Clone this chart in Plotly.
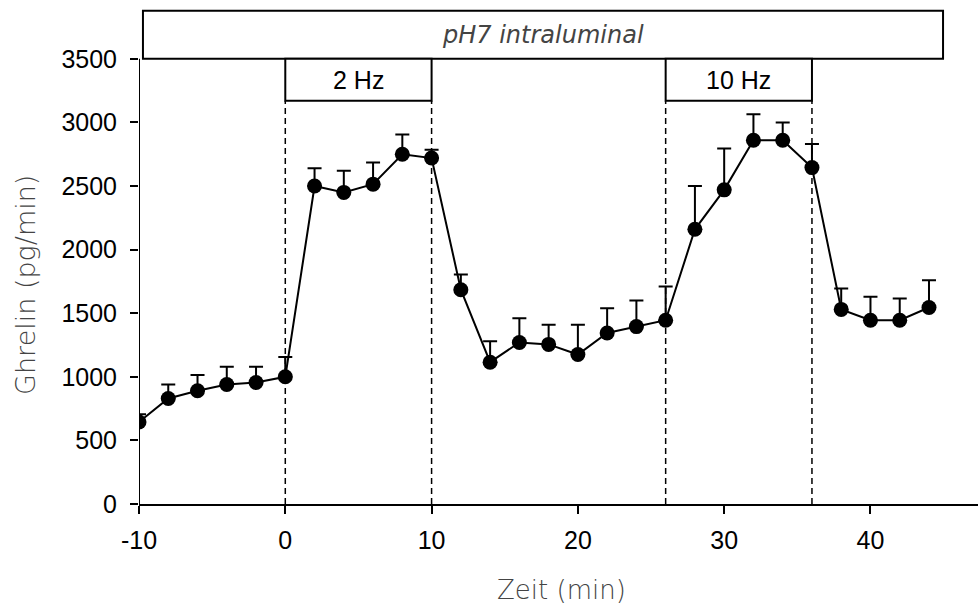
import plotly.graph_objects as go

# ---- data ----
time_min = [-10, -8, -6, -4, -2, 0, 2, 4, 6, 8, 10, 12, 14, 16, 18, 20, 22, 24, 26, 28, 30, 32, 34, 36, 38, 40, 42, 44]
ghrelin = [645, 830, 890, 940, 955, 1000, 2500, 2450, 2515, 2750, 2720, 1685, 1115, 1270, 1255, 1175, 1345, 1395,
           1445, 2160, 2470, 2860, 2860, 2645, 1530, 1445, 1445, 1545]
sem = [60, 110, 125, 140, 125, 155, 140, 170, 170, 155, 65, 120, 165, 190, 155, 235, 195, 205,
       265, 340, 325, 205, 140, 185, 165, 185, 170, 215]

x_ticks = [-10, 0, 10, 20, 30, 40]
y_ticks = [0, 500, 1000, 1500, 2000, 2500, 3000, 3500]

stim_periods = [(0, 10, "2 Hz"), (26, 36, "10 Hz")]
ph_box = (-9.73, 44.96, "pH7 intraluminal")

FONT = "Liberation Sans, Arial, sans-serif"
TITLE_FONT = "DejaVu Sans"

fig = go.Figure()
fig.add_trace(go.Scatter(
    x=time_min, y=ghrelin,
    mode="lines+markers",
    line=dict(color="black", width=2),
    marker=dict(color="black", size=15),
    error_y=dict(type="data", array=sem, symmetric=False, arrayminus=[0] * len(sem),
                 color="black", thickness=2, width=7),
    showlegend=False,
))

shapes = []
# y-axis line (only up to 3500)
shapes.append(dict(type="line", xref="x", yref="y", x0=-10, x1=-10, y0=0, y1=3500,
                   line=dict(color="black", width=2)))
# pH box
shapes.append(dict(type="rect", xref="x", yref="y", x0=ph_box[0], x1=ph_box[1], y0=3500, y1=3878,
                   line=dict(color="black", width=2), fillcolor="white", layer="above"))
annotations = [dict(x=(ph_box[0] + ph_box[1]) / 2, y=3689, xref="x", yref="y", text=ph_box[2],
                    showarrow=False,
                    font=dict(family=TITLE_FONT, size=24, color="#444444", style="italic", weight=300))]
for a, b, lab in stim_periods:
    shapes.append(dict(type="rect", xref="x", yref="y", x0=a, x1=b, y0=3170, y1=3500,
                       line=dict(color="black", width=2), fillcolor="white", layer="above"))
    for xv in (a, b):
        shapes.append(dict(type="line", xref="x", yref="y", x0=xv, x1=xv, y0=0, y1=3170,
                           line=dict(color="black", width=1.5, dash="6px,4px"), layer="below"))
    annotations.append(dict(x=(a + b) / 2, y=3335, xref="x", yref="y", text=lab, showarrow=False,
                            font=dict(family=FONT, size=25, color="black")))

annotations.append(dict(x=0.503, y=-0.173, xref="paper", yref="paper", text="Zeit (min)", showarrow=False,
                        xanchor="center", yanchor="middle",
                        font=dict(family=TITLE_FONT, size=26, color="#444444", weight=200)))
annotations.append(dict(x=-0.136, y=0.4415, xref="paper", yref="paper", text="Ghrelin (pg/min)",
                        showarrow=False, textangle=-90, xanchor="center", yanchor="middle",
                        font=dict(family=TITLE_FONT, size=27, color="#444444", weight=200)))

fig.update_layout(
    width=978, height=604,
    margin=dict(l=139, r=0, t=8, b=100),
    plot_bgcolor="white", paper_bgcolor="white",
    shapes=shapes, annotations=annotations,
    xaxis=dict(range=[-10, 47.35], tickvals=x_ticks, ticktext=[str(v) for v in x_ticks],
               showgrid=False, zeroline=False, showline=True, linecolor="black", linewidth=2,
               ticks="outside", ticklen=8, tickwidth=1.5, tickcolor="black",
               ticklabelstandoff=5,
               tickfont=dict(family=FONT, size=25, color="black")),
    yaxis=dict(range=[0, 3900], tickvals=y_ticks, ticktext=[str(v) for v in y_ticks],
               showgrid=False, zeroline=False, showline=False,
               ticks="outside", ticklen=8, tickwidth=1.5, tickcolor="black",
               ticklabelstandoff=8,
               tickfont=dict(family=FONT, size=25, color="black")),
)

fig.write_html("out.html")
